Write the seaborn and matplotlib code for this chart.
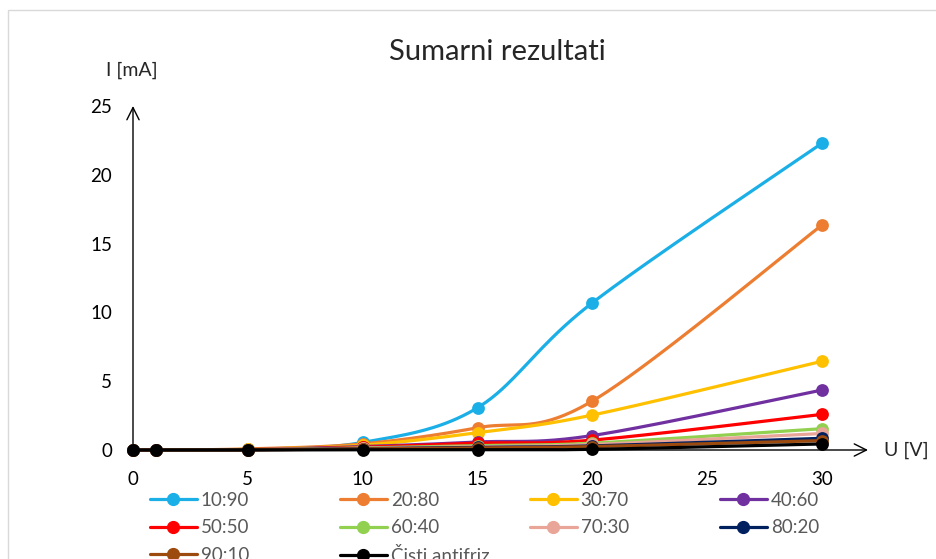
import numpy as np
import pandas as pd
import matplotlib
matplotlib.use('Agg')
import matplotlib.pyplot as plt
from matplotlib.lines import Line2D
from matplotlib.patches import Rectangle
import seaborn as sns

# napon U [V]
napon = [0, 1, 5, 10, 15, 20, 30]

# struja I [mA] za svaki omjer
s_10_90 = [0, 0, 0.05, 0.55, 3.07, 10.7, 22.3]
s_20_80 = [0, 0, 0.08, 0.45, 1.62, 3.56, 16.35]
s_30_70 = [0, 0, 0.05, 0.35, 1.26, 2.54, 6.45]
s_40_60 = [0, 0, 0.03, 0.25, 0.58, 1.05, 4.36]
s_50_50 = [0, 0, 0.03, 0.2, 0.5, 0.72, 2.59]
s_60_40 = [0, 0, 0.02, 0.15, 0.32, 0.5, 1.55]
s_70_30 = [0, 0, 0.02, 0.12, 0.25, 0.4, 1.2]
s_80_20 = [0, 0, 0.01, 0.1, 0.2, 0.3, 0.85]
s_90_10 = [0, 0, 0.01, 0.08, 0.15, 0.25, 0.68]
s_cisti = [0, 0, 0, 0.02, 0.02, 0.05, 0.44]

nazivi = ['10:90', '20:80', '30:70', '40:60', '50:50',
          '60:40', '70:30', '80:20', '90:10', 'Čisti antifriz']
serije = [s_10_90, s_20_80, s_30_70, s_40_60, s_50_50,
          s_60_40, s_70_30, s_80_20, s_90_10, s_cisti]
boje = ['#1AAFE6', '#ED7D31', '#FFC000', '#7030A0', '#FF0000',
        '#92D050', '#E8A598', '#002060', '#9C4A0E', '#000000']


# glatka linija kao u Excelu (bezier kroz tocke)
def smooth(x, y, n=40):
    x = np.asarray(x, float)
    y = np.asarray(y, float)
    P = np.column_stack([x, y])
    out = []
    t = np.linspace(0, 1, n)[:, None]
    for i in range(len(P) - 1):
        p0 = P[i - 1] if i > 0 else P[i]
        p1 = P[i]
        p2 = P[i + 1]
        p3 = P[i + 2] if i + 2 < len(P) else P[i + 1]
        c1 = p1 + (p2 - p0) / 6
        c2 = p2 - (p3 - p1) / 6
        seg = (1 - t)**3 * p1 + 3 * (1 - t)**2 * t * c1 + 3 * (1 - t) * t**2 * c2 + t**3 * p2
        out.append(seg if i == 0 else seg[1:])
    out = np.vstack(out)
    return out[:, 0], out[:, 1]


sns.set_theme(style='white')
plt.rcParams['font.family'] = ['Lato', 'DejaVu Sans']

W, H = 936, 559
fig = plt.figure(figsize=(W / 100, H / 100), dpi=100)
ax = fig.add_axes([133 / W, 109 / H, 735 / W, 344 / H])

for i, (naziv, vals, c) in enumerate(zip(nazivi, serije, boje)):
    xs, ys = smooth(napon, vals)
    df = pd.DataFrame({'U': xs, 'I': ys})
    sns.lineplot(data=df, x='U', y='I', color=c, lw=2.3, sort=False,
                 estimator=None, ax=ax, zorder=3 + i)
    sns.scatterplot(x=napon, y=vals, color=c, s=85, edgecolor=c, linewidth=0,
                    ax=ax, zorder=3 + i, clip_on=False)
    ax.lines[-1].set_clip_on(False)

ax.set_xlim(0, 32)
ax.set_ylim(0, 25)
ax.set_xticks([0, 5, 10, 15, 20, 25, 30])
ax.set_yticks([0, 5, 10, 15, 20, 25])
ax.set_xlabel('')
ax.set_ylabel('')
ax.tick_params(length=0, pad=15, labelsize=13.5, labelcolor='black')
for sp in ax.spines.values():
    sp.set_visible(False)

# osi sa strelicama
strelica = dict(arrowstyle='->', color='black', lw=1, mutation_scale=22, shrinkA=0, shrinkB=0)
ax.annotate('', xy=(1, 0), xytext=(0, 0), xycoords='axes fraction', arrowprops=strelica, zorder=2)
ax.annotate('', xy=(0, 1), xytext=(0, 0), xycoords='axes fraction', arrowprops=strelica, zorder=2)

fig.text(497 / W, 1 - 52 / H, 'Sumarni rezultati', ha='center', va='center', fontsize=21)
fig.text(132 / W, 1 - 70 / H, 'I [mA]', ha='center', va='center', fontsize=14)
fig.text(884 / W, 1 - 450 / H, 'U [V]', ha='left', va='center', fontsize=14)

# okvir grafikona
fig.patches.append(Rectangle((8 / W, -0.1), 2, 1 - 10 / H + 0.1, transform=fig.transFigure,
                             fill=False, ec='#D9D9D9', lw=1))

# legenda u 4 stupca, redom kao u Excelu
ncol = 4
for col in range(ncol):
    idx = list(range(col, len(nazivi), ncol))
    handles = [Line2D([0], [0], color=boje[k], lw=2.3, marker='o', markersize=8.5) for k in idx]
    labels = [nazivi[k] for k in idx]
    fig.legend(handles, labels, loc='upper left',
               bbox_to_anchor=((150 + 190 * col) / W, 1 - 492 / H),
               frameon=False, fontsize=13.5, labelcolor='#595959',
               handlelength=2.5, handletextpad=0.2, borderpad=0,
               borderaxespad=0, labelspacing=0.55)

fig.savefig('out.png', dpi=100)
